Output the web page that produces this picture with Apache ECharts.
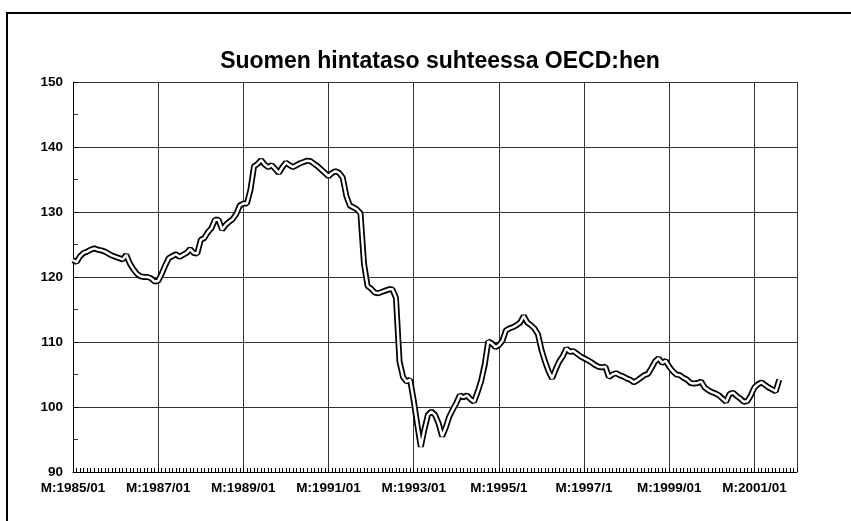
<!DOCTYPE html>
<html>
<head>
<meta charset="utf-8">
<script src="https://cdn.jsdelivr.net/npm/echarts@6/dist/echarts.min.js"></script>
<style>
  html, body { margin: 0; padding: 0; background: #fff; }
  #chart { width: 851px; height: 521px; }
</style>
</head>
<body>
<div id="chart"></div>
<script>
	'use strict';

	/* data: monthly index from 1985/01 */
	var startYear = 1985;
	var monthCount = 205;
	var priceLevel = [
		122.6, 122.3, 123.2, 123.7, 123.9, 124.2, 124.4, 124.2, 124.1, 123.9, 123.6, 123.3,
		123.1, 122.9, 122.7, 123.4, 122.1, 121.2, 120.5, 120.1, 120.0, 120.0, 119.8, 119.3,
		119.4, 120.5, 121.8, 122.9, 123.2, 123.5, 123.1, 123.4, 123.7, 124.3, 123.7, 123.6,
		125.7, 126.0, 126.9, 127.5, 128.8, 128.8, 127.3, 128.0, 128.5, 128.9, 129.7, 131.0,
		131.3, 131.3, 133.4, 137.0, 137.4, 138.0, 137.3, 136.9, 137.2, 136.6, 136.0, 136.9,
		137.6, 137.2, 136.9, 137.2, 137.5, 137.7, 137.9, 137.8, 137.4, 137.0, 136.5, 136.0,
		135.5, 136.0, 136.3, 136.0, 135.3, 132.5, 131.0, 130.7, 130.4, 129.8, 122.0, 118.6,
		118.2, 117.6, 117.5, 117.7, 117.9, 118.1, 118.1, 116.8, 107.0, 104.6, 103.9, 104.2,
		101.0, 97.3, 93.9, 96.5, 98.8, 99.3, 98.8, 97.5, 95.5, 96.8, 98.5, 99.6,
		100.6, 101.8, 101.5, 101.8, 101.2, 100.8, 102.3, 104.0, 106.5, 110.1, 109.8, 109.2,
		109.5, 110.2, 111.8, 112.1, 112.3, 112.6, 113.0, 114.0, 113.0, 112.6, 112.1, 111.2,
		108.8, 107.0, 105.5, 104.4, 105.8, 107.0, 107.8, 109.0, 108.5, 108.6, 108.2, 107.8,
		107.5, 107.2, 106.9, 106.5, 106.2, 106.1, 106.2, 104.6, 105.0, 105.2, 104.9, 104.7,
		104.4, 104.2, 103.8, 104.1, 104.5, 104.9, 105.1, 106.0, 107.0, 107.5, 106.8, 107.1,
		106.2, 105.5, 105.0, 104.9, 104.5, 104.2, 103.7, 103.6, 103.7, 103.9, 103.0, 102.6,
		102.3, 102.1, 101.8, 101.3, 100.8, 102.0, 102.2, 101.7, 101.3, 100.8, 100.9, 101.8,
		103.0, 103.5, 103.8, 103.4, 103.0, 102.7, 102.4, 104.2
	];
	var xTickLabels = ['M:1985/01', 'M:1987/01', 'M:1989/01', 'M:1991/01', 'M:1993/01',
		'M:1995/1', 'M:1997/1', 'M:1999/01', 'M:2001/01'];
	var yMin = 90, yMax = 150, yStep = 10;

	var months = [];
	for (var i = 0; i < monthCount; i++) {
		var y = startYear + Math.floor(i / 12);
		var m = (i % 12) + 1;
		months.push(y + '/' + (m < 10 ? '0' + m : m));
	}

	var chart = echarts.init(document.getElementById('chart'));
	var option = {
		animation: false,
		backgroundColor: '#fff',
		title: {
			text: 'Suomen hintataso suhteessa OECD:hen',
			left: 435,
			top: 45,
			textAlign: 'center',
			textStyle: {
				fontFamily: 'Liberation Sans, Arial, sans-serif',
				fontSize: 23,
				fontWeight: 'bold',
				color: '#000'
			}
		},
		graphic: [{
			type: 'rect',
			shape: { x: 7, y: 13, width: 1000, height: 1000 },
			style: { fill: 'none', stroke: '#000', lineWidth: 2 },
			silent: true
		}],
		grid: {
			left: 73,
			right: 54,
			top: 82,
			bottom: 49
		},
		xAxis: {
			type: 'category',
			data: months,
			boundaryGap: false,
			axisLine: { lineStyle: { color: '#000', width: 1 } },
			axisTick: {
				show: true,
				inside: true,
				interval: 0,
				length: 4,
				lineStyle: { color: '#000', width: 1 }
			},
			axisLabel: {
				interval: function (idx) { return idx % 24 === 0 && idx < 204; },
				formatter: function (val, idx) { return xTickLabels[Math.round(idx / 24)] || ''; },
				fontFamily: 'Liberation Sans, Arial, sans-serif',
				fontSize: 13.5,
				fontWeight: 'bold',
				color: '#000',
				margin: 9
			},
			splitLine: {
				show: true,
				interval: function (idx) { return idx % 24 === 0 || idx === monthCount - 1; },
				lineStyle: { color: '#333', width: 1 }
			}
		},
		yAxis: {
			type: 'value',
			min: yMin,
			max: yMax,
			interval: yStep,
			axisLine: { show: true, lineStyle: { color: '#000', width: 1 } },
			axisTick: { show: true, inside: true, length: 5, lineStyle: { color: '#000' } },
			minorTick: { show: true, splitNumber: 2, length: 5, lineStyle: { color: '#333' } },
			axisLabel: {
				fontFamily: 'Liberation Sans, Arial, sans-serif',
				fontSize: 13.5,
				fontWeight: 'bold',
				color: '#000',
				margin: 10
			},
			splitLine: { show: true, lineStyle: { color: '#333', width: 1 } }
		},
		series: [
			{
				name: 'outline',
				type: 'line',
				data: priceLevel,
				symbol: 'none',
				lineStyle: { color: '#000', width: 6 },
				silent: true
			},
			{
				name: 'core',
				type: 'line',
				data: priceLevel,
				symbol: 'none',
				lineStyle: { color: '#fff', width: 2.5 },
				silent: true
			}
		]
	};
	chart.setOption(option);
	window.addEventListener('resize', function () {
		chart.resize();
	});
</script>
</body>
</html>
